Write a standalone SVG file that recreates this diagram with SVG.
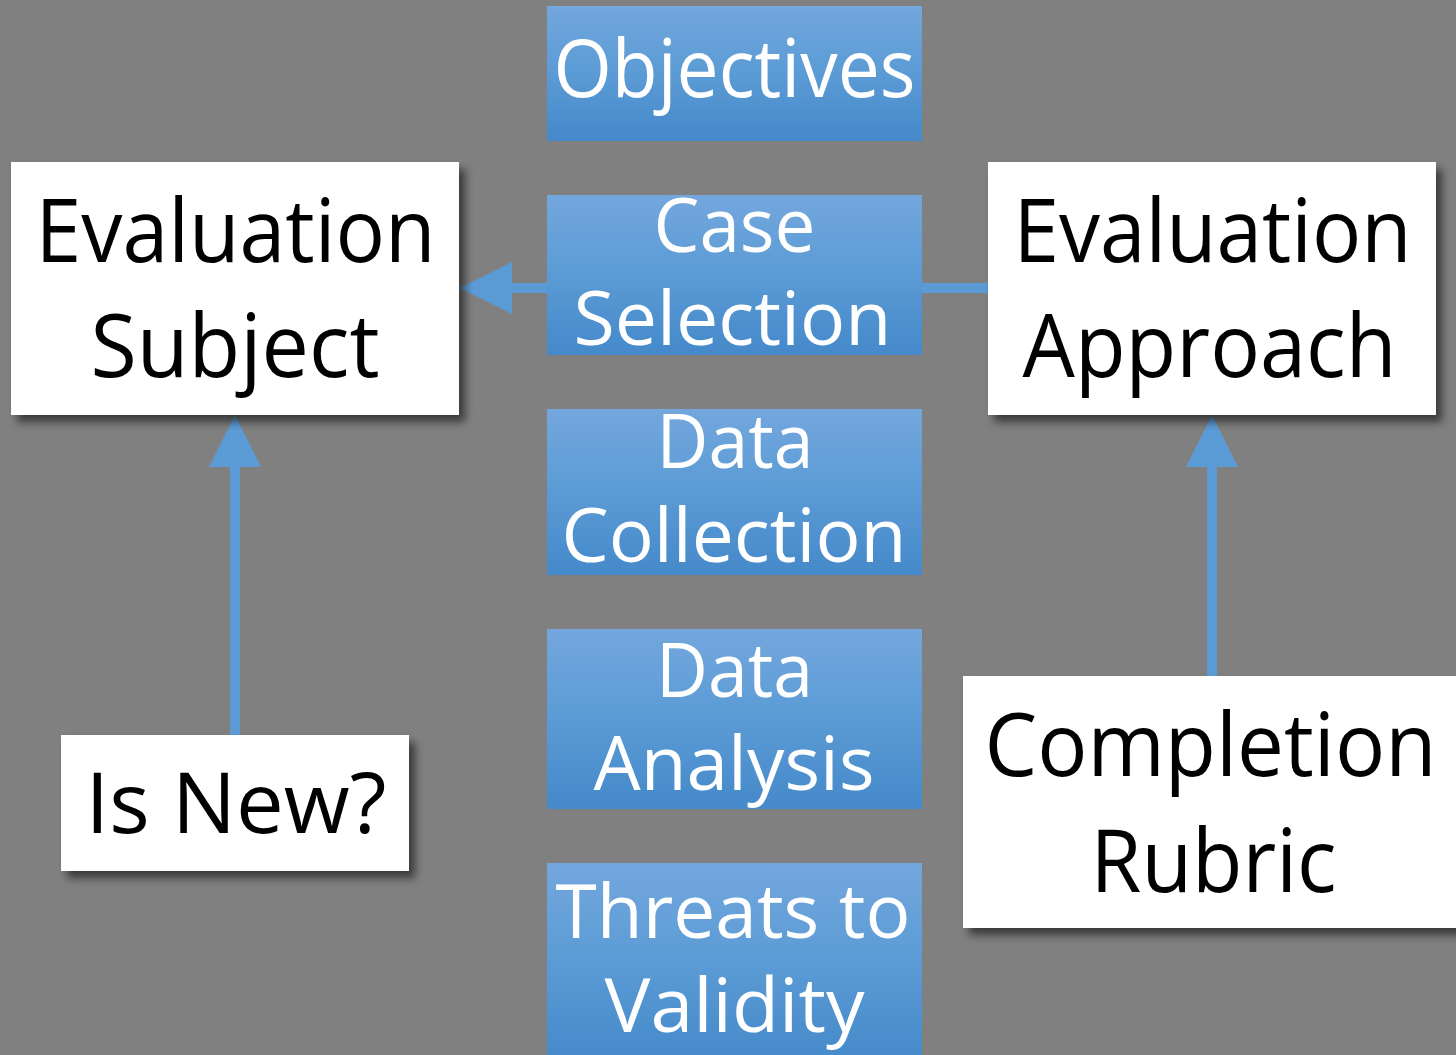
<svg xmlns="http://www.w3.org/2000/svg" width="1456" height="1055" viewBox="0 0 1456 1055">
  <defs>
    <linearGradient id="blueGrad" x1="0" y1="0" x2="0" y2="1">
      <stop offset="0" stop-color="#73A7DD"/>
      <stop offset="0.5" stop-color="#5B9BD5"/>
      <stop offset="1" stop-color="#4589CA"/>
    </linearGradient>
    <filter id="shadow" x="-10%" y="-10%" width="130%" height="130%">
      <feDropShadow dx="6" dy="7" stdDeviation="4" flood-color="#000000" flood-opacity="0.55"/>
    </filter>
    <marker id="head" markerUnits="userSpaceOnUse" markerWidth="52" markerHeight="52" refX="0" refY="26" orient="auto" viewBox="0 0 52 52">
      <path d="M0,0 L52,26 L0,52 Z" fill="#5B9BD5"/>
    </marker>
  </defs>
  <style>
    .white { fill: #FFFFFF; filter: url(#shadow); }
    .blue { fill: url(#blueGrad); }
    .conn { stroke: #5B9BD5; stroke-width: 10; fill: none; marker-end: url(#head); }
    .tb { font-family: "Open Sans", "Noto Sans", "Liberation Sans", sans-serif; font-size: 87px; fill: #000000; text-anchor: middle; }
    .tw { font-family: "Open Sans", "Noto Sans", "Liberation Sans", sans-serif; font-size: 75px; fill: #FFFFFF; text-anchor: middle; }
  </style>
  <rect x="0" y="0" width="1456" height="1055" fill="#808080"/>

  <g id="connectors">
    <line class="conn" x1="988" y1="288" x2="512" y2="288"/>
    <line class="conn" x1="235" y1="735" x2="235" y2="467"/>
    <line class="conn" x1="1212" y1="676" x2="1212" y2="467"/>
  </g>

  <g id="objectives">
    <rect class="blue" x="547" y="6" width="375" height="135"/>
    <text class="tw" style="font-size:81px" x="734.5" y="97" textLength="362" lengthAdjust="spacingAndGlyphs">Objectives</text>
  </g>
  <g id="case-selection">
    <rect class="blue" x="547" y="195" width="375" height="160"/>
    <text class="tw" x="734.5" y="252" textLength="162" lengthAdjust="spacingAndGlyphs">Case</text>
    <text class="tw" x="732.5" y="345" textLength="318" lengthAdjust="spacingAndGlyphs">Selection</text>
  </g>
  <g id="data-collection">
    <rect class="blue" x="547" y="409" width="375" height="166"/>
    <text class="tw" x="735" y="468" textLength="157" lengthAdjust="spacingAndGlyphs">Data</text>
    <text class="tw" x="734" y="562" textLength="345" lengthAdjust="spacingAndGlyphs">Collection</text>
  </g>
  <g id="data-analysis">
    <rect class="blue" x="547" y="629" width="375" height="180"/>
    <text class="tw" x="734.5" y="697" textLength="157" lengthAdjust="spacingAndGlyphs">Data</text>
    <text class="tw" x="734" y="790" textLength="281" lengthAdjust="spacingAndGlyphs">Analysis</text>
  </g>
  <g id="threats-to-validity">
    <rect class="blue" x="547" y="863" width="375" height="200"/>
    <text class="tw" x="733" y="938" textLength="355" lengthAdjust="spacingAndGlyphs">Threats to</text>
    <text class="tw" x="734.5" y="1032" textLength="260" lengthAdjust="spacingAndGlyphs">Validity</text>
  </g>

  <g id="evaluation-subject">
    <rect class="white" x="11" y="162" width="448" height="253"/>
    <text class="tb" x="235.5" y="262" textLength="400" lengthAdjust="spacingAndGlyphs">Evaluation</text>
    <text class="tb" x="235" y="377" textLength="289" lengthAdjust="spacingAndGlyphs">Subject</text>
  </g>
  <g id="evaluation-approach">
    <rect class="white" x="988" y="162" width="448" height="253"/>
    <text class="tb" x="1212.5" y="262" textLength="398" lengthAdjust="spacingAndGlyphs">Evaluation</text>
    <text class="tb" x="1209.5" y="377" textLength="374" lengthAdjust="spacingAndGlyphs">Approach</text>
  </g>
  <g id="is-new">
    <rect class="white" x="61" y="735" width="348" height="136"/>
    <text class="tb" style="font-size:85px" x="236" y="833" textLength="301" lengthAdjust="spacingAndGlyphs">Is New?</text>
  </g>
  <g id="completion-rubric">
    <rect class="white" x="963" y="676" width="498" height="252"/>
    <text class="tb" x="1210.5" y="776" textLength="452" lengthAdjust="spacingAndGlyphs">Completion</text>
    <text class="tb" x="1213.5" y="892" textLength="246" lengthAdjust="spacingAndGlyphs">Rubric</text>
  </g>
</svg>
